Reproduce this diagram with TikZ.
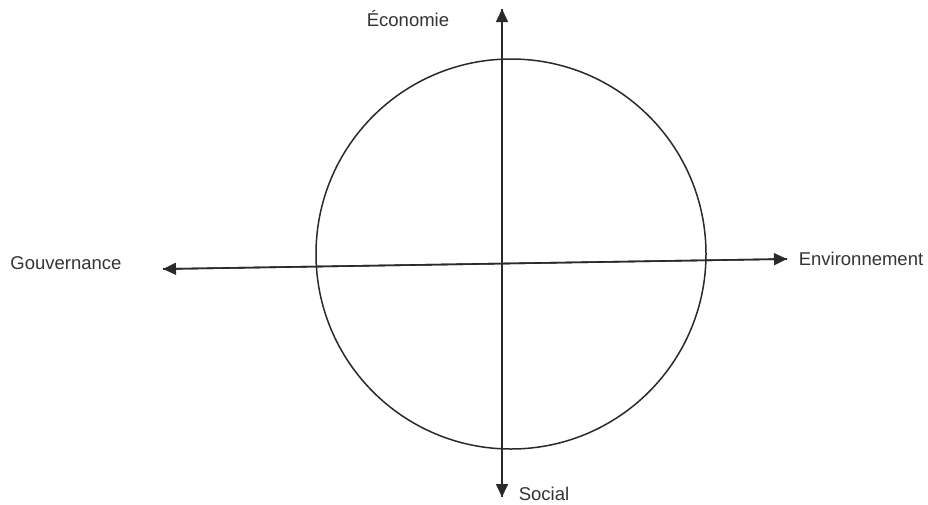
\documentclass[tikz,border=0pt]{standalone}
\usepackage{fontspec}
\setmainfont{Liberation Sans}
\usetikzlibrary{arrows.meta}
\definecolor{ink}{HTML}{2A2A2A}
\definecolor{txt}{HTML}{333333}
\tikzset{
  axis/.style={draw=ink, line width=1.6pt, -{Triangle[length=13pt,width=12pt]}},
  lbl/.style={text=txt, font=\fontsize{18.5}{20}\selectfont, inner sep=0pt},
  ring/.style={draw=ink, line width=1.5pt}
}
\begin{document}
\begin{tikzpicture}[x=1pt,y=-1pt]
\useasboundingbox (0,0) rectangle (928,504);
\node[ring, circle, minimum size=390pt, inner sep=0pt] (c) at (511,254) {};
\coordinate (top) at (502,9);
\coordinate (bot) at (502,497);
\coordinate (left) at (163,269);
\coordinate (right) at (787,259);
\draw[axis] (bot) -- (top);
\draw[axis] (top) -- (bot);
\draw[axis] (right) -- (left);
\draw[axis] (left) -- (right);
\node[lbl] (eco) at (408,19) {Économie};
\node[lbl] (soc) at (544,494) {Social};
\node[lbl] (gov) at (66,263) {Gouvernance};
\node[lbl] (env) at (861,259) {Environnement};
\end{tikzpicture}
\end{document}
